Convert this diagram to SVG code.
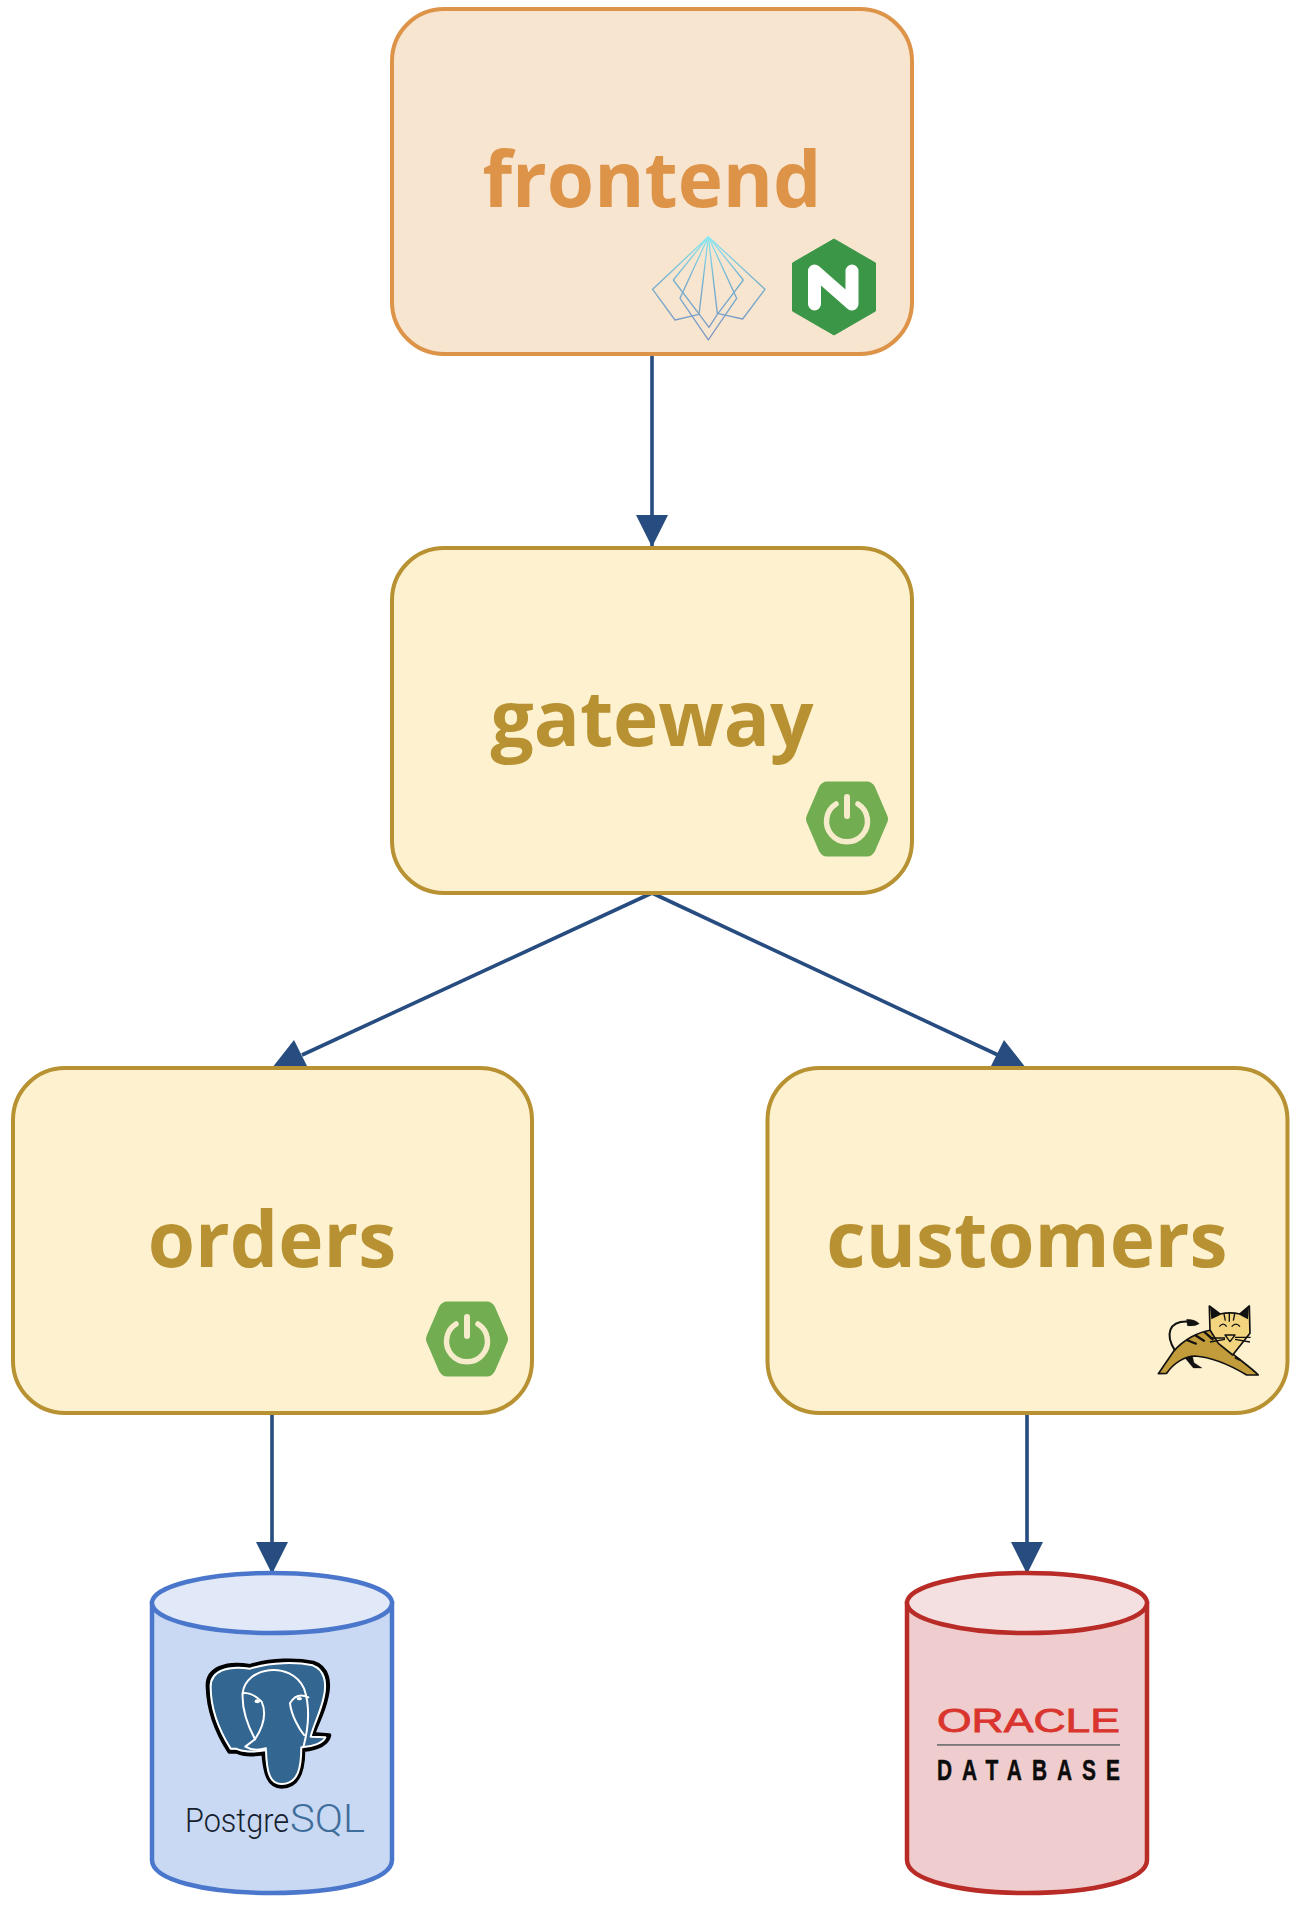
<svg xmlns="http://www.w3.org/2000/svg" width="1300" height="1908" viewBox="0 0 1300 1908">
<style>
.box{stroke-width:4}
.amber{fill:#fdf1cf;stroke:#b89232}
.orange{fill:#f8e5cf;stroke:#dd9348}
.label{font-family:"Open Sans","Liberation Sans",sans-serif;font-weight:700;font-size:76.500px;text-anchor:middle}
.conn{stroke:#274c80;stroke-width:3.600;fill:none}
.blue .body{fill:#c9d9f3}.blue .top{fill:#e1e8f7}.blue .body,.blue .top{stroke:#4a77cc;stroke-width:4.500}
.red .body{fill:#efcccd}.red .top{fill:#f4e0e0}.red .body,.red .top{stroke:#b82b26;stroke-width:4.500}
</style>
<defs>
<marker id="down" markerUnits="userSpaceOnUse" markerWidth="34" markerHeight="32" refX="17" refY="32" orient="0"><path d="M1 0H33L17 32Z" fill="#274c80"/></marker>
<linearGradient id="fan" gradientUnits="userSpaceOnUse" x1="0" y1="50" x2="0" y2="360"><stop offset="0" stop-color="#8be8f2"/><stop offset=".45" stop-color="#74afcf"/><stop offset="1" stop-color="#7f97c2"/></linearGradient>
<g id="spring">
<path d="M-20-37.500H20Q25-37.500 28-32L40-4Q42 0 40 4L28 32Q25 37.500 20 37.500H-20Q-25 37.500-28 32L-40 4Q-42 0-40-4L-28-32Q-25-37.500-20-37.500Z" fill="#72ad52"/>
<path d="M-11-15A20.500 20.500 0 1 0 11-15" fill="none" stroke="#f6eccb" stroke-width="5.500" stroke-linecap="round"/>
<path d="M0-22V-3" stroke="#f6eccb" stroke-width="6" stroke-linecap="round"/>
</g>
</defs>
<rect width="1300" height="1908" fill="#fff"/>

<g id="connectors" class="conn">
<path d="M652 354V547" marker-end="url(#down)"/>
<path d="M652 893L302 1055"/>
<path d="M652 893L998 1055"/>
<path d="M272 1414V1574" marker-end="url(#down)"/>
<path d="M1027 1414V1574" marker-end="url(#down)"/>
<path d="M294 1040L272 1068H308Z" fill="#274c80" stroke="none"/>
<path d="M1004 1040L990 1068H1026Z" fill="#274c80" stroke="none"/>
</g>

<g id="frontend">
<rect class="box orange" x="392" y="9" width="520" height="345" rx="52"/>
<text class="label" x="652" y="207" fill="#dd9348">frontend</text>
<g transform="translate(630 220) scale(.3333)" fill="none" stroke="url(#fan)" stroke-width="4" stroke-linejoin="round">
<path d="M235 50L68 208L135 300L207 283Z"/>
<path d="M235 50L405 208L338 297L262 280Z"/>
<path d="M235 50L130 180L208 283L237 322L262 283L340 180Z"/>
<path d="M235 50L150 235L235 360L320 235Z"/>
</g>
<path d="M834 239L875.500 263V311L834 335L792.500 311V263Z" fill="#3c9647" stroke="#3c9647" stroke-width="1" stroke-linejoin="round"/>
<path d="M814.500 304V271L852 304V271" fill="none" stroke="#fff" stroke-width="13" stroke-linecap="round" stroke-linejoin="round"/>
</g>

<g id="gateway">
<rect class="box amber" x="392" y="548" width="520" height="345" rx="52"/>
<text class="label" x="652" y="746" fill="#b89232">gateway</text>
<use href="#spring" x="847" y="819"/>
</g>

<g id="orders">
<rect class="box amber" x="13" y="1068" width="519" height="345" rx="52"/>
<text class="label" x="272" y="1267" fill="#b89232">orders</text>
<use href="#spring" x="467" y="1339"/>
</g>

<g id="customers">
<rect class="box amber" x="767.500" y="1068" width="520" height="345" rx="52"/>
<text class="label" x="1027" y="1267" fill="#b89232">customers</text>
<g transform="translate(1130 1280) scale(.3333)" stroke="#111" stroke-linejoin="round">
<path d="M135 212C105 165 115 122 175 125" fill="none" stroke-width="6"/>
<path d="M170 118Q195 118 208 131Q195 140 172 137Z" fill="#111"/>
<path d="M155 222L190 264L216 264L192 248L186 222Z" fill="#111"/>
<path d="M85 281L130 215C160 180 205 155 245 150L300 215C330 240 365 265 385 285L350 285C300 255 250 232 195 228C165 228 130 250 110 280Z" fill="#c29c3a" stroke-width="5"/>
<path d="M238 78L270 102Q300 95 330 102L358 78L360 160L308 225L265 190L240 150Z" fill="#f3d57f" stroke-width="5"/>
<path d="M240 80L272 104L244 118Z" fill="#111" stroke="none"/>
<path d="M357 80L328 104L354 118Z" fill="#111" stroke="none"/>
<path d="M298 100V125M282 102L286 122M314 102L310 122M268 140Q280 125 290 140M305 140Q318 125 330 140M285 165H315L300 185Z M240 174H285M240 186L285 178M315 172H362M315 178L360 186" fill="none" stroke-width="4"/>
<path d="M170 180L200 192M195 165L224 184M222 155L250 180M315 232L330 240" fill="none" stroke-width="7"/>
</g>
</g>

<g id="postgres" class="blue">
<path class="body" d="M152 1603V1860C152 1880 205 1893 272 1893S392 1880 392 1860V1603Z"/>
<ellipse class="top" cx="272" cy="1603" rx="120" ry="30"/>
<g transform="translate(140 1560) scale(.3333)" stroke-linejoin="round" stroke-linecap="round">
<path d="M203 380C200 325 260 305 330 318C395 298 470 298 520 308C565 322 570 370 560 410C550 460 530 490 520 522L568 526C562 552 530 566 490 570C490 625 480 680 425 680C385 680 375 640 370 580C340 585 310 585 290 575L268 575C232 520 205 450 203 380Z" fill="#336791" stroke="#000" stroke-width="12"/>
<path d="M330 326C395 306 470 306 518 316C555 330 560 370 552 408C542 458 522 490 512 530L556 532C550 548 520 560 484 562C484 620 476 672 425 672C390 672 380 640 378 570C340 578 305 575 288 566L272 566C240 515 212 450 212 380C212 332 265 316 330 326" fill="none" stroke="#fff" stroke-width="6"/>
<path d="M308 400C316 320 452 300 492 385C506 425 512 480 490 562M308 400Q335 395 365 425C385 470 360 515 345 538L316 560Q340 575 378 565M450 430Q470 395 505 412M450 430C455 470 480 510 492 525" fill="none" stroke="#fff" stroke-width="6"/>
<path d="M308 400C305 450 325 500 345 538" fill="none" stroke="#fff" stroke-width="6"/>
<ellipse cx="352" cy="424" rx="8" ry="6" fill="#fff"/>
<ellipse cx="478" cy="416" rx="8" ry="5" fill="#fff"/>
</g>
<text y="1832" font-family="Roboto,'Liberation Sans',sans-serif" font-weight="300" font-size="33"><tspan x="185" textLength="104" lengthAdjust="spacingAndGlyphs" fill="#14202e">Postgre</tspan><tspan x="290" textLength="75" lengthAdjust="spacingAndGlyphs" fill="#3f6e9c" font-size="38">SQL</tspan></text>
</g>

<g id="oracle" class="red">
<path class="body" d="M907 1603V1860C907 1880 960 1893 1027 1893S1147 1880 1147 1860V1603Z"/>
<ellipse class="top" cx="1027" cy="1603" rx="120" ry="30"/>
<text x="937" y="1732" font-family="'Liberation Sans',sans-serif" font-size="33" textLength="183" lengthAdjust="spacingAndGlyphs" fill="#d9352e" stroke="#d9352e" stroke-width=".8">ORACLE</text>
<rect x="937" y="1744" width="183" height="1.800" fill="#777"/>
<text transform="translate(937 1780) scale(.72 1)" font-family="'Liberation Sans',sans-serif" font-weight="700" font-size="29" textLength="254" fill="#0c0c0c" stroke="#0c0c0c" stroke-width=".5">DATABASE</text>
</g>
</svg>
